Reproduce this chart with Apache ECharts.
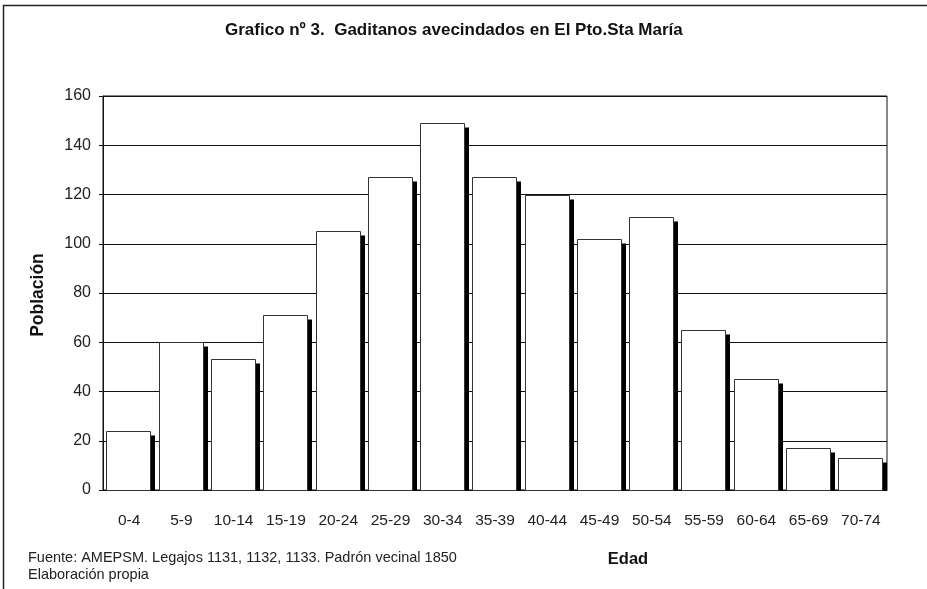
<!DOCTYPE html>
<html>
<head>
<meta charset="utf-8">
<script src="https://cdn.jsdelivr.net/npm/echarts@6/dist/echarts.min.js"></script>
<style>
  html, body { margin: 0; padding: 0; background: #fff; }
  #chart { width: 927px; height: 589px; }
</style>
</head>
<body>
<div id="chart"></div>
<script>
// grupos de edad y población
const categories = ['0-4', '5-9', '10-14', '15-19', '20-24', '25-29', '30-34', '35-39',
  '40-44', '45-49', '50-54', '55-59', '60-64', '65-69', '70-74'];
const poblacion = [24, 60, 53, 71, 105, 127, 149, 127, 120, 102, 111, 65, 45, 17, 13];
const yTicks = { min: 0, max: 160, interval: 20 };

const FONT = '"Liberation Sans", Arial, sans-serif';

const chart = echarts.init(document.getElementById('chart'));

function renderBar(params, api) {
  const top = api.coord([api.value(0), api.value(1)]);
  const base = api.coord([api.value(0), 0]);
  const w = api.size([1, 0])[0];
  const x0 = top[0] - w / 2;
  const bx = Math.round(x0 + w * 0.066) + 0.5;
  const bw = Math.round(w * 0.84);
  const ty = Math.round(top[1]) + 0.5;
  const by = Math.round(base[1]) + 0.5;
  return {
    type: 'group',
    children: [
      { type: 'rect', shape: { x: bx + 4, y: ty + 4, width: bw + 0.5, height: by - ty - 4 },
        style: { fill: '#000' } },
      { type: 'rect', shape: { x: bx, y: ty, width: bw, height: by - ty },
        style: { fill: '#fff', stroke: '#333', lineWidth: 1 } }
    ]
  };
}

chart.setOption({
  animation: false,
  backgroundColor: '#fff',
  textStyle: { fontFamily: FONT },
  grid: { left: 103, right: 40, top: 96, bottom: 99, show: true, borderColor: '#111', borderWidth: 1 },
  xAxis: {
    type: 'category',
    data: categories,
    boundaryGap: true,
    axisLine: { lineStyle: { color: '#111', width: 1 } },
    axisTick: { length: 5, lineStyle: { color: '#111' } },
    axisLabel: { color: '#222', fontSize: 15.5, margin: 23, fontFamily: FONT, interval: 0 },
    splitLine: { show: false }
  },
  yAxis: {
    type: 'value',
    min: yTicks.min,
    max: yTicks.max,
    interval: yTicks.interval,
    axisLine: { show: true, lineStyle: { color: '#111', width: 1 } },
    axisTick: { show: true, length: 4, lineStyle: { color: '#111' } },
    axisLabel: { color: '#222', fontSize: 16, margin: 12, fontFamily: FONT },
    splitLine: { lineStyle: { color: '#111', width: 1 } }
  },
  series: [{
    type: 'custom',
    renderItem: renderBar,
    data: poblacion.map((v, i) => [i, v]),
    encode: { x: 0, y: 1 }
  }],
  graphic: [
    { type: 'rect', shape: { x: 3.5, y: 5.5, width: 940, height: 600 },
      style: { fill: 'none', stroke: '#222', lineWidth: 1.5 }, silent: true },
    { type: 'text', left: 225, top: 22,
      style: { text: 'Grafico nº 3.  Gaditanos avecindados en El Pto.Sta María',
        font: 'bold 17px ' + FONT, fill: '#111' } },
    { type: 'text', x: 38, y: 295, rotation: Math.PI / 2,
      style: { text: 'Población', font: 'bold 17.5px ' + FONT, fill: '#111',
        align: 'center', verticalAlign: 'middle' } },
    { type: 'text', x: 628, y: 559,
      style: { text: 'Edad', font: 'bold 16.5px ' + FONT, fill: '#111',
        align: 'center', verticalAlign: 'middle' } },
    { type: 'text', left: 28, top: 549,
      style: { text: 'Fuente: AMEPSM. Legajos 1131, 1132, 1133. Padrón vecinal 1850\nElaboración propia',
        font: '14.5px ' + FONT, fill: '#222', lineHeight: 17 } }
  ]
});
</script>
</body>
</html>
